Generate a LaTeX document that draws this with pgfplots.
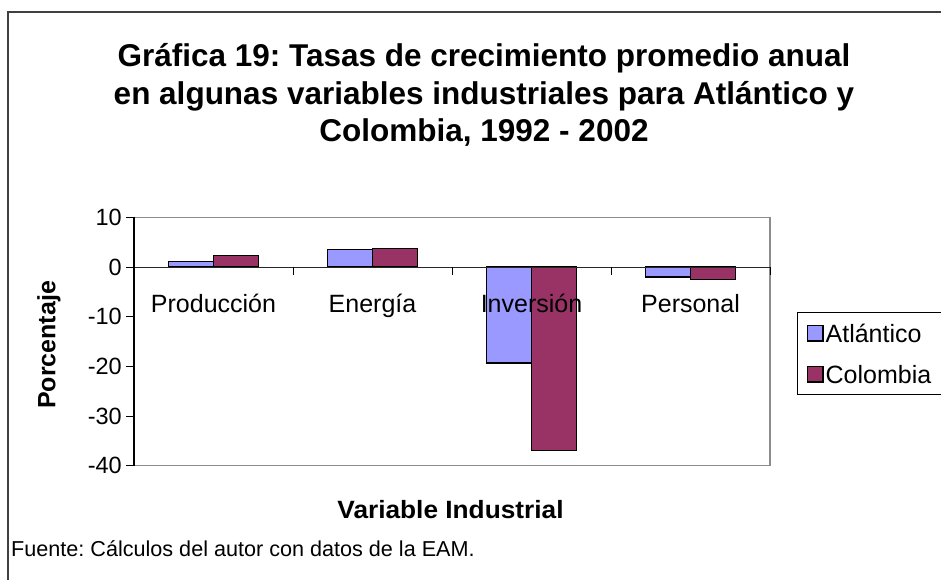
\documentclass[border=0pt]{standalone}
\usepackage{pgfplots}
\pgfplotsset{compat=1.18}
\usepackage{fontspec}
\setmainfont{Liberation Sans}
\usepackage{graphicx}
\definecolor{atl}{HTML}{9999FF}
\definecolor{col}{HTML}{993366}
\definecolor{framec}{HTML}{404040}
\definecolor{boxc}{HTML}{8C8C8C}
\pgfplotsset{sqlegend/.style={legend image code/.code={\draw[##1,/tikz/.cd] (0pt,-7.8pt) rectangle (15.6pt,7.8pt);}}}
\frenchspacing
\begin{document}
\begin{tikzpicture}[x=1pt,y=1pt]
\path[use as bounding box] (0,0) rectangle (941,580);
\draw[framec, line width=1.5pt] (8,0) -- (8,568) -- (941,568);
\begin{scope}[every node/.style={inner sep=0pt, anchor=base, font=\bfseries\fontsize{31.5}{31.5}\selectfont}]
\node at (484,513.3) {Gráfica 19: Tasas de crecimiento promedio anual};
\node at (484,475.8) {en algunas variables industriales para Atlántico y};
\node at (484,438.3) {Colombia, 1992 - 2002};
\end{scope}
\node[rotate=90, inner sep=0pt, font=\bfseries\fontsize{25}{25}\selectfont] at (49,235) {Porcentaje};
\node[anchor=base, inner sep=0pt, font=\bfseries\fontsize{25}{25}\selectfont] at (450.5,61.7) {\scalebox{1.05}[1]{Variable Industrial}};
\node[anchor=base west, inner sep=0pt, font=\fontsize{21.6}{21.6}\selectfont] at (11,23) {Fuente: Cálculos del autor con datos de la EAM.};
\begin{axis}[
  at={(134pt,114.3pt)}, anchor=south west, scale only axis,
  width=636pt, height=248.2pt,
  xmin=-0.5, xmax=3.5, ymin=-40, ymax=10,
  ytick={-40,-30,-20,-10,0,10}, xtick=\empty,
  ytick pos=left,
  axis line style={draw=none},
  tick align=outside, major tick length=8pt,
  ytick style={black, line width=1pt},
  yticklabel style={font=\fontsize{23.5}{23.5}\selectfont, inner sep=0pt, xshift=-4pt},
  /pgf/number format/assume math mode=true,
  ybar=0pt, bar width=45pt,
  clip=false,
  legend cell align=left,
  legend style={at={(1.043,0.618)}, anchor=north west, draw=black, line width=0.8pt,
    inner xsep=9pt, inner ysep=0pt, row sep=0pt,
    font=\fontsize{25}{25}\selectfont,
    nodes={inner xsep=2pt, inner ysep=0pt, text height=29.5pt, text depth=11.5pt}},
]
\addplot[fill=atl, draw=black, line width=1.3pt, sqlegend] coordinates {(0,1.2) (1,3.6) (2,-19.3) (3,-2.0)};
\addlegendentry{Atlántico}
\addplot[fill=col, draw=black, line width=1.3pt, sqlegend] coordinates {(0,2.4) (1,3.7) (2,-37.0) (3,-2.5)};
\addlegendentry{Colombia}
\draw[boxc, line width=1.2pt] (rel axis cs:0,1) -- (rel axis cs:1,1) -- (rel axis cs:1,0) -- (rel axis cs:0,0);
\draw[black, line width=1.3pt] (rel axis cs:0,0) -- (rel axis cs:0,1);
\draw[black!85, line width=1.1pt] (axis cs:-0.5,0) -- (axis cs:3.5,0);
\pgfplotsinvokeforeach{-0.5,0.5,1.5,2.5,3.5}{\draw[black, line width=1pt] (axis cs:#1,0) -- ++(0pt,-8pt);}
\begin{scope}[every node/.style={anchor=base, inner sep=0pt, font=\fontsize{25}{25}\selectfont}]
\node at (axis cs:0,0) [yshift=-45.3pt] {Producción};
\node at (axis cs:1,0) [yshift=-45.3pt] {Energía};
\node at (axis cs:2,0) [yshift=-45.3pt] {Inversión};
\node at (axis cs:3,0) [yshift=-45.3pt] {Personal};
\end{scope}
\end{axis}
\end{tikzpicture}
\end{document}
